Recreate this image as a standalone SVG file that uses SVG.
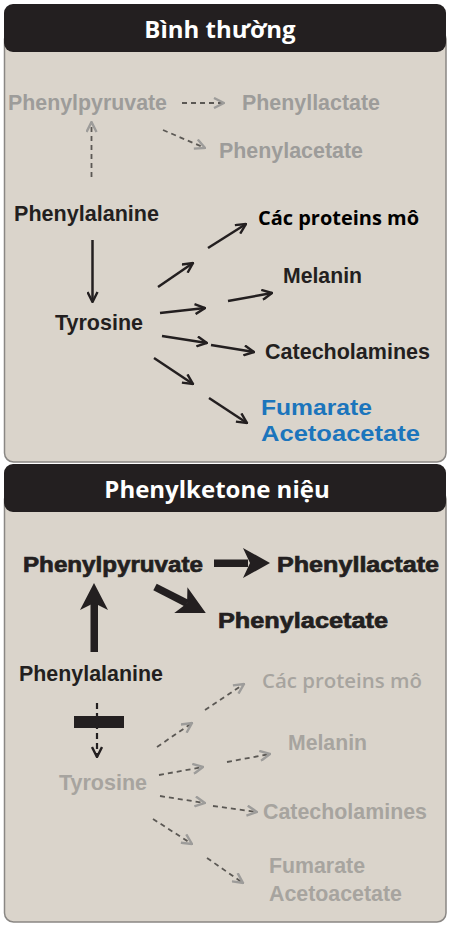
<svg xmlns="http://www.w3.org/2000/svg" width="450" height="927" viewBox="0 0 450 927">
<style>
.body{fill:#dad4cb;stroke:#8a8784;stroke-width:1.5}
.hdr{fill:#231f20}
.title{font-family:"Open Sans","Noto Sans",sans-serif;font-weight:700;font-size:24px;fill:#ffffff;text-anchor:middle}
.lb{font-family:"Liberation Sans",Arial,sans-serif;font-weight:700;font-size:21.5px}
.dk{fill:#231f20}
.gr1{fill:#9d9c9a}
.gr2{fill:#a7a49f}
.bl{fill:#1c75bc}
.hv{stroke:#231f20;stroke-width:0.7;font-size:22px}
.cal{font-family:"Open Sans","Noto Sans",sans-serif;font-size:19px}
.s{fill:none;stroke:#231f20;stroke-width:2.5}
.d{fill:none;stroke:#5b5854;stroke-width:1.8;stroke-dasharray:5 4}
.dkd{fill:none;stroke:#231f20;stroke-width:2.2;stroke-dasharray:6 4}
.thick{fill:#231f20}
</style>
<defs>
<marker id="hb" viewBox="0 0 12 12" refX="11" refY="6" markerWidth="12" markerHeight="12" markerUnits="userSpaceOnUse" orient="auto"><path d="M1,1 L11,6 L1,11" fill="none" stroke="#231f20" stroke-width="2.4"/></marker>
<marker id="hg" viewBox="0 0 12 12" refX="11" refY="6" markerWidth="12" markerHeight="12" markerUnits="userSpaceOnUse" orient="auto"><path d="M1,1 L11,6 L1,11" fill="none" stroke="#9d9c9a" stroke-width="2.4"/></marker>
</defs>
<rect width="450" height="927" fill="#ffffff"/>

<g id="panel-normal">
<rect class="body" x="4.5" y="30" width="441.5" height="432" rx="9"/>
<rect class="hdr" x="4" y="4" width="442" height="48" rx="9"/>
<text class="title" x="220" y="38">Bình thường</text>
</g>
<g id="panel-pku">
<rect class="body" x="4.5" y="490" width="441.5" height="432" rx="9"/>
<rect class="hdr" x="4" y="464" width="442" height="48" rx="9"/>
<text class="title" x="217" y="498">Phenylketone niệu</text>
</g>

<g id="connectors">
<!-- panel 1 -->
<path class="d" d="M182,103 H224" marker-end="url(#hg)"/>
<path class="d" d="M163,130 L205,148" marker-end="url(#hg)"/>
<path class="d" d="M91.5,177 V122" marker-end="url(#hg)"/>
<path class="s" d="M92.5,240 V302" marker-end="url(#hb)"/>
<path class="s" d="M208,248 L246,224" marker-end="url(#hb)"/>
<path class="s" d="M158,287 L193,263" marker-end="url(#hb)"/>
<path class="s" d="M160,313 L205,308" marker-end="url(#hb)"/>
<path class="s" d="M228,301 L272,293" marker-end="url(#hb)"/>
<path class="s" d="M162,336 L207,343" marker-end="url(#hb)"/>
<path class="s" d="M211,345 L254,352" marker-end="url(#hb)"/>
<path class="s" d="M154,358 L193,384" marker-end="url(#hb)"/>
<path class="s" d="M209,398 L247,423" marker-end="url(#hb)"/>
<!-- panel 2 thick -->
<g class="thick">
<rect x="214" y="559.5" width="34" height="7.5"/>
<polygon points="243,548 270,563 243,578 250,563"/>
<rect x="90.5" y="600" width="7.5" height="52"/>
<polygon points="80,610 94,583 108,610 94,603"/>
<g transform="translate(155,587) rotate(27)">
<rect x="0" y="-3.75" width="36" height="7.5"/>
<polygon points="29,-14.5 57,0 29,14.5 36,0"/>
</g>
</g>
<rect id="block" x="74" y="716" width="50" height="12" fill="#231f20"/>
<path class="dkd" d="M97,703 V757" marker-end="url(#hb)"/>
<path class="d" d="M205,710 L244,684" marker-end="url(#hg)"/>
<path class="d" d="M157,747 L192,723" marker-end="url(#hg)"/>
<path class="d" d="M159,775 L203,767" marker-end="url(#hg)"/>
<path class="d" d="M227,762 L270,754" marker-end="url(#hg)"/>
<path class="d" d="M160,796 L205,803" marker-end="url(#hg)"/>
<path class="d" d="M213,806 L257,812" marker-end="url(#hg)"/>
<path class="d" d="M153,819 L192,844" marker-end="url(#hg)"/>
<path class="d" d="M207,858 L243,883" marker-end="url(#hg)"/>
</g>

<!-- panel 1 nodes -->
<g id="n1-phenylpyruvate"><text class="lb gr1" x="8" y="110" textLength="159" lengthAdjust="spacingAndGlyphs">Phenylpyruvate</text></g>
<g id="n1-phenyllactate"><text class="lb gr1" x="242" y="110" textLength="138" lengthAdjust="spacingAndGlyphs">Phenyllactate</text></g>
<g id="n1-phenylacetate"><text class="lb gr1" x="219" y="158" textLength="144" lengthAdjust="spacingAndGlyphs">Phenylacetate</text></g>
<g id="n1-phenylalanine"><text class="lb dk" x="14" y="221" textLength="145" lengthAdjust="spacingAndGlyphs">Phenylalanine</text></g>
<g id="n1-proteins"><text class="cal" x="258" y="225" font-weight="700" fill="#000000" textLength="161" lengthAdjust="spacingAndGlyphs">Các proteins mô</text></g>
<g id="n1-tyrosine"><text class="lb dk" x="55" y="330" textLength="88" lengthAdjust="spacingAndGlyphs">Tyrosine</text></g>
<g id="n1-melanin"><text class="lb dk" x="283" y="283" textLength="79" lengthAdjust="spacingAndGlyphs">Melanin</text></g>
<g id="n1-catecholamines"><text class="lb dk" x="265" y="359" textLength="165" lengthAdjust="spacingAndGlyphs">Catecholamines</text></g>
<g id="n1-fumarate"><text class="lb bl" x="261" y="415" textLength="111" lengthAdjust="spacingAndGlyphs">Fumarate</text><text class="lb bl" x="261" y="441" textLength="159" lengthAdjust="spacingAndGlyphs">Acetoacetate</text></g>

<!-- panel 2 nodes -->
<g id="n2-phenylpyruvate"><text class="lb dk hv" x="23" y="572" textLength="180" lengthAdjust="spacingAndGlyphs">Phenylpyruvate</text></g>
<g id="n2-phenyllactate"><text class="lb dk hv" x="277" y="572" textLength="162" lengthAdjust="spacingAndGlyphs">Phenyllactate</text></g>
<g id="n2-phenylacetate"><text class="lb dk hv" x="218" y="628" textLength="170" lengthAdjust="spacingAndGlyphs">Phenylacetate</text></g>
<g id="n2-phenylalanine"><text class="lb dk" x="19" y="681" textLength="144" lengthAdjust="spacingAndGlyphs">Phenylalanine</text></g>
<g id="n2-proteins"><text class="cal gr2" x="262" y="688" font-weight="600" textLength="160" lengthAdjust="spacingAndGlyphs">Các proteins mô</text></g>
<g id="n2-tyrosine"><text class="lb gr2" x="59" y="790" textLength="88" lengthAdjust="spacingAndGlyphs">Tyrosine</text></g>
<g id="n2-melanin"><text class="lb gr2" x="288" y="750" textLength="79" lengthAdjust="spacingAndGlyphs">Melanin</text></g>
<g id="n2-catecholamines"><text class="lb gr2" x="263" y="819" textLength="164" lengthAdjust="spacingAndGlyphs">Catecholamines</text></g>
<g id="n2-fumarate"><text class="lb gr2" x="269" y="873" textLength="96" lengthAdjust="spacingAndGlyphs">Fumarate</text><text class="lb gr2" x="269" y="901" textLength="133" lengthAdjust="spacingAndGlyphs">Acetoacetate</text></g>
</svg>
